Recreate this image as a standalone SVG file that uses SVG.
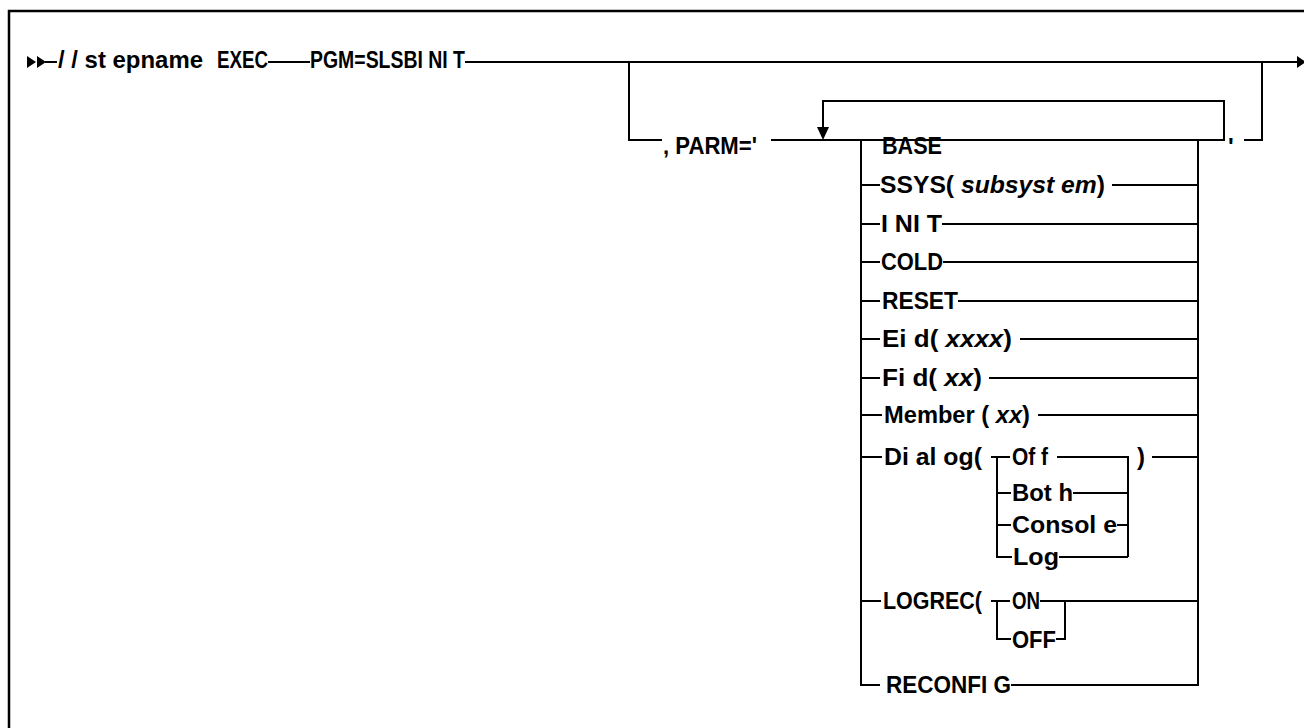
<svg xmlns="http://www.w3.org/2000/svg" width="1304" height="728" viewBox="0 0 1304 728">
<style>
.t{font-family:"Liberation Sans",Arial,sans-serif;font-weight:bold;font-size:24px;fill:#000}
.i{font-style:italic}
.c{fill:none;stroke:#000;stroke-width:2}
.f{fill:none;stroke:#000;stroke-width:2.5}
.h{fill:#000}
</style>
<rect x="9" y="11" width="1320" height="740" class="f"/>
<g id="connectors">
<polygon class="h" points="27,56 36,62 27,68"/>
<polygon class="h" points="37,56 46,62 37,68"/>
<path class="c" d="M45 62H57M268 62H310M465 62H1297"/>
<polygon class="h" points="1297,56 1306,62 1297,68"/>
<path class="c" d="M1262 62V140H1244"/>
<path class="c" d="M629 62V140H662"/>
<path class="c" d="M771 140H1224V101H823V128"/>
<polygon class="h" points="817,127 829,127 823,140"/>
<path class="c" d="M861 140V685H880"/>
<path class="c" d="M1198 140V685H1011"/>
<path class="c" d="M861 185H880M1112 185H1198"/>
<path class="c" d="M861 224H880M942 224H1198"/>
<path class="c" d="M861 262H880M943 262H1198"/>
<path class="c" d="M861 301H880M958 301H1198"/>
<path class="c" d="M861 339H880M1020 339H1198"/>
<path class="c" d="M861 378H880M989 378H1198"/>
<path class="c" d="M861 415H882M1038 415H1198"/>
<path class="c" d="M861 457H882M1152 457H1198"/>
<path class="c" d="M991 457H1010M997 457V557H1012M997 493H1011M1073 493H1128M997 525H1011M1117 525H1128M1059 557H1128M1057 457H1128V557"/>
<path class="c" d="M861 601H881M991 601H1010M997 601V639H1011M1040 601H1198M1056 639H1065V601"/>
</g>
<g id="start"><text class="t" x="58" y="68" textLength="145" lengthAdjust="spacingAndGlyphs">/ / st epname</text></g>
<g id="exec"><text class="t" x="217" y="68" textLength="51" lengthAdjust="spacingAndGlyphs">EXEC</text></g>
<g id="pgm"><text class="t" x="310" y="68" textLength="155" lengthAdjust="spacingAndGlyphs">PGM=SLSBI NI T</text></g>
<g id="parm"><text class="t" x="663" y="154" textLength="94" lengthAdjust="spacingAndGlyphs">, PARM='</text></g>
<g id="quote"><text class="t" x="1228" y="155">'</text></g>
<g id="base"><text class="t" x="882" y="154" textLength="60" lengthAdjust="spacingAndGlyphs">BASE</text></g>
<g id="ssys"><text class="t" x="880" y="193" textLength="225" lengthAdjust="spacingAndGlyphs">SSYS( <tspan class="i">subsyst em</tspan>)</text></g>
<g id="init"><text class="t" x="881" y="232" textLength="61" lengthAdjust="spacingAndGlyphs">I NI T</text></g>
<g id="cold"><text class="t" x="881" y="270" textLength="62" lengthAdjust="spacingAndGlyphs">COLD</text></g>
<g id="reset"><text class="t" x="882" y="309" textLength="76" lengthAdjust="spacingAndGlyphs">RESET</text></g>
<g id="eid"><text class="t" x="882" y="347" textLength="130" lengthAdjust="spacingAndGlyphs">Ei d( <tspan class="i">xxxx</tspan>)</text></g>
<g id="fid"><text class="t" x="882" y="386" textLength="100" lengthAdjust="spacingAndGlyphs">Fi d( <tspan class="i">xx</tspan>)</text></g>
<g id="member"><text class="t" x="884" y="423" textLength="146" lengthAdjust="spacingAndGlyphs">Member ( <tspan class="i">xx</tspan>)</text></g>
<g id="dialog"><text class="t" x="884" y="465" textLength="98" lengthAdjust="spacingAndGlyphs">Di al og(</text>
<text class="t" x="1137" y="465">)</text></g>
<g id="off"><text class="t" x="1012" y="465" textLength="36" lengthAdjust="spacingAndGlyphs">Of f</text></g>
<g id="both"><text class="t" x="1012" y="501" textLength="61" lengthAdjust="spacingAndGlyphs">Bot h</text></g>
<g id="console"><text class="t" x="1012" y="533" textLength="105" lengthAdjust="spacingAndGlyphs">Consol e</text></g>
<g id="log"><text class="t" x="1013" y="565" textLength="46" lengthAdjust="spacingAndGlyphs">Log</text></g>
<g id="logrec"><text class="t" x="883" y="609" textLength="99" lengthAdjust="spacingAndGlyphs">LOGREC(</text></g>
<g id="on"><text class="t" x="1012" y="609" textLength="28" lengthAdjust="spacingAndGlyphs">ON</text></g>
<g id="offlog"><text class="t" x="1012" y="648" textLength="44" lengthAdjust="spacingAndGlyphs">OFF</text></g>
<g id="reconfig"><text class="t" x="886" y="693" textLength="125" lengthAdjust="spacingAndGlyphs">RECONFI G</text></g>
</svg>
